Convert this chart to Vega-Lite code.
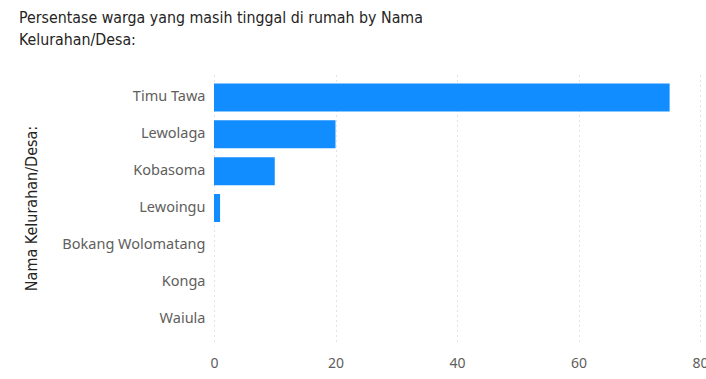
{
  "$schema": "https://vega.github.io/schema/vega-lite/v6.json",
  "autosize": "none",
  "width": 486,
  "height": 266,
  "padding": {"left": 214, "top": 75, "right": 6, "bottom": 38},
  "background": "white",
  "title": {
    "text": ["Persentase warga yang masih tinggal di rumah by Nama", "Kelurahan/Desa:"],
    "anchor": "start",
    "frame": "group",
    "dx": -195,
    "offset": 11,
    "baseline": "bottom",
    "lineHeight": 22,
    "font": "DejaVu Sans Condensed",
    "fontSize": 15.8,
    "fontWeight": "normal",
    "color": "#252423"
  },
  "data": {
    "values": [
      {"desa": "Timu Tawa", "persen": 75},
      {"desa": "Lewolaga", "persen": 20},
      {"desa": "Kobasoma", "persen": 10},
      {"desa": "Lewoingu", "persen": 1},
      {"desa": "Bokang Wolomatang", "persen": 0},
      {"desa": "Konga", "persen": 0},
      {"desa": "Waiula", "persen": 0}
    ]
  },
  "mark": {"type": "bar", "color": "#118DFF"},
  "encoding": {
    "y": {
      "field": "desa",
      "type": "nominal",
      "sort": null,
      "scale": {"paddingInner": 0.24, "paddingOuter": 0.23},
      "axis": {
        "title": "Nama Kelurahan/Desa:",
        "titleFont": "DejaVu Sans Condensed",
        "titleFontSize": 16,
        "titleFontWeight": "normal",
        "titleColor": "#252423",
        "titlePadding": 22,
        "labelFont": "Noto Sans",
        "labelFontSize": 14.5,
        "labelColor": "#605E5C",
        "labelPadding": 9,
        "domain": false,
        "ticks": false,
        "grid": false
      }
    },
    "x": {
      "field": "persen",
      "type": "quantitative",
      "scale": {"domain": [0, 80], "nice": false},
      "axis": {
        "title": null,
        "values": [0, 20, 40, 60, 80],
        "labelFont": "Noto Sans",
        "labelFontSize": 14,
        "labelColor": "#605E5C",
        "labelPadding": 15,
        "labelFlush": false,
        "domain": false,
        "ticks": false,
        "grid": true,
        "gridColor": "#C8C6C4",
        "gridDash": [1, 4],
        "gridWidth": 1
      }
    }
  },
  "config": {"view": {"stroke": null}}
}
